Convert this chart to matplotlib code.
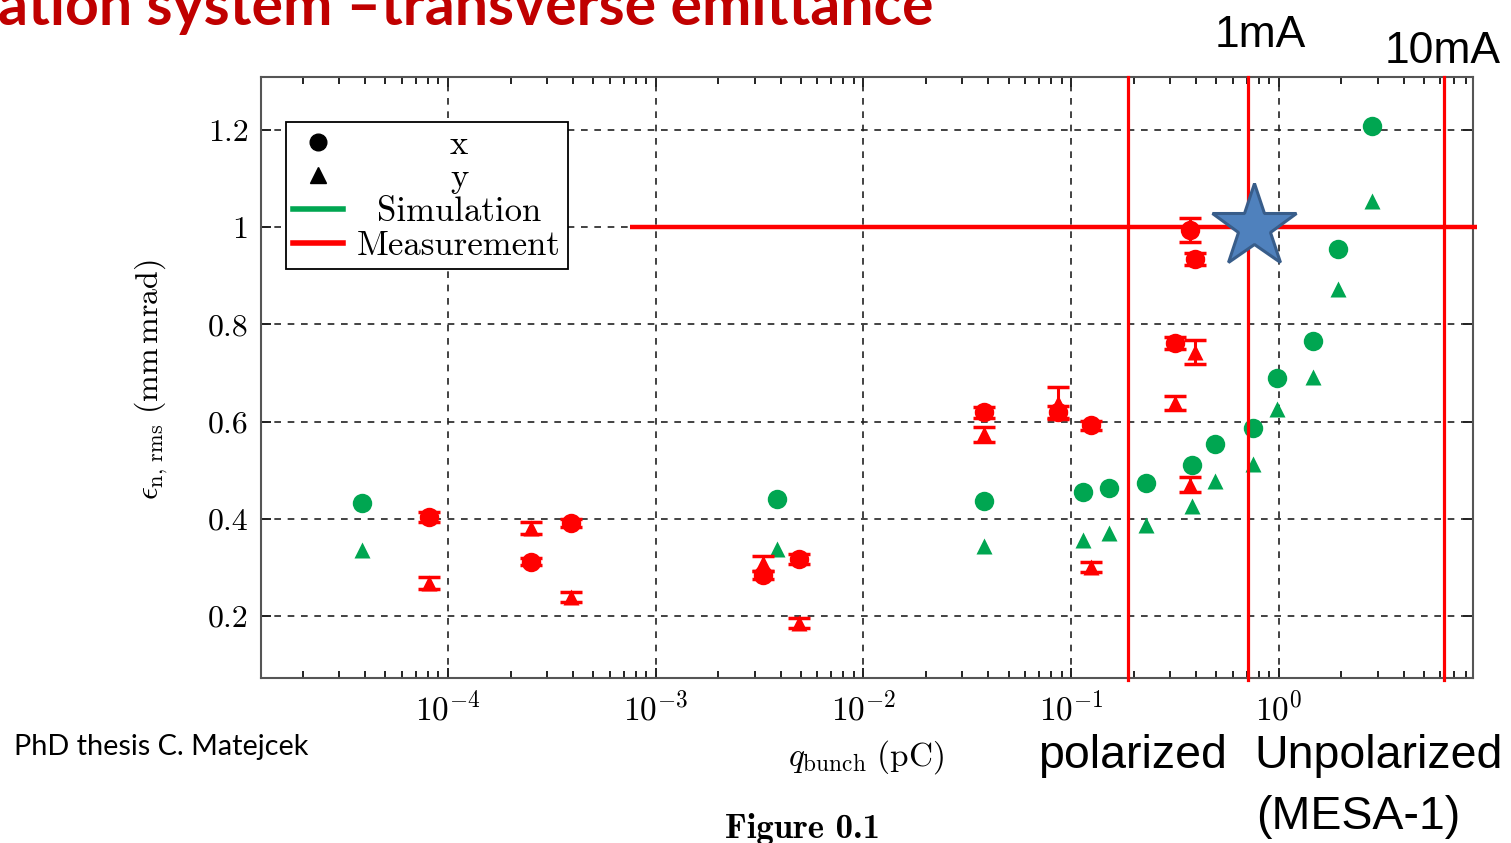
import numpy as np
import matplotlib
matplotlib.use('Agg')
import matplotlib.pyplot as plt
from matplotlib.lines import Line2D
from matplotlib.ticker import LogLocator, LogFormatterMathtext, NullFormatter, FixedLocator, FixedFormatter

plt.rcParams['font.family'] = 'cmr10'
plt.rcParams['mathtext.fontset'] = 'cm'
plt.rcParams['axes.unicode_minus'] = False
plt.rcParams['axes.formatter.use_mathtext'] = True

# Simulation (green): bunch charge in pC, emittance in mm mrad
q_sim = [3.85e-5, 3.82e-3, 0.0381, 0.114, 0.152, 0.229, 0.380, 0.493, 0.751, 0.976, 1.46, 1.93, 2.81]
eps_sim_x = [0.433, 0.440, 0.437, 0.455, 0.463, 0.474, 0.511, 0.554, 0.587, 0.690, 0.766, 0.955, 1.208]
eps_sim_y = [0.336, 0.338, 0.344, 0.356, 0.370, 0.387, 0.426, 0.478, 0.513, 0.626, 0.692, 0.873, 1.054]

# Measurement (red) with error bars
q_meas = [8.1e-5, 2.51e-4, 3.91e-4, 3.29e-3, 4.9e-3, 0.0381, 0.0865, 0.1247, 0.316, 0.374, 0.395]
eps_meas_x = [0.404, 0.312, 0.391, 0.284, 0.317, 0.619, 0.620, 0.592, 0.762, 0.994, 0.935]
err_meas_x = [0.010, 0.008, 0.008, 0.008, 0.010, 0.012, 0.012, 0.010, 0.012, 0.024, 0.012]
eps_meas_y = [0.268, 0.381, 0.239, 0.308, 0.186, 0.574, 0.638, 0.301, 0.638, 0.470, 0.743]
err_meas_y = [0.012, 0.012, 0.010, 0.015, 0.010, 0.015, 0.033, 0.010, 0.014, 0.015, 0.024]

# operating points drawn on top
q_current_lines = [0.188, 0.711, 6.24]
q_target, eps_target = 0.76, 1.0
eps_limit = 1.0
q_limit_range = [7.5e-4, 9.0]

xlim = (1.258e-5, 8.61)
ylim = (0.0724, 1.309)
yticks = [0.2, 0.4, 0.6, 0.8, 1.0, 1.2]
yticklabels = ['0.2', '0.4', '0.6', '0.8', '1', '1.2']

green = '#00A651'
red = '#FF0000'

W, H = 1511, 843
fig = plt.figure(figsize=(W / 100, H / 100), dpi=100)
ax = fig.add_axes([261 / W, 165 / H, 1212 / W, 601 / H])
ax.set_xscale('log')
ax.set_xlim(*xlim)
ax.set_ylim(*ylim)

ax.grid(True, which='major', ls=(0, (4, 4)), lw=1.2, color='#222222', zorder=0)
ax.set_axisbelow(True)

ax.plot(q_sim, eps_sim_x, 'o', color=green, ms=14, mec='none', zorder=3)
ax.plot(q_sim, eps_sim_y, '^', color=green, ms=12, mec='none', zorder=3)
ax.errorbar(q_meas, eps_meas_x, yerr=err_meas_x, fmt='o', color=red, ms=14, mec='none',
            elinewidth=2.2, capsize=8, capthick=2.5, zorder=3)
ax.errorbar(q_meas, eps_meas_y, yerr=err_meas_y, fmt='^', color=red, ms=12, mec='none',
            elinewidth=2.2, capsize=8, capthick=2.5, zorder=3)

# current markers and emittance limit
for q in q_current_lines:
    ax.axvline(q, ymin=-0.004, ymax=1.0, color=red, lw=2.3, zorder=5, clip_on=False)
ax.hlines(eps_limit, q_limit_range[0], q_limit_range[1], color=red, lw=3.2, zorder=5, clip_on=False)
ax.plot([q_target], [eps_target], marker='*', ms=63, color='#4F81BD', mec='#385D8A', mew=2.2,
        zorder=6, clip_on=False)

for s in ax.spines.values():
    s.set_color('#555555')
    s.set_linewidth(1.5)

ax.xaxis.set_major_locator(LogLocator(base=10, numticks=20))
ax.xaxis.set_minor_locator(LogLocator(base=10, subs=np.arange(2, 10), numticks=20))
ax.xaxis.set_major_formatter(LogFormatterMathtext())
ax.xaxis.set_minor_formatter(NullFormatter())
ax.yaxis.set_major_locator(FixedLocator(yticks))
ax.yaxis.set_major_formatter(FixedFormatter(yticklabels))
ax.tick_params(which='both', direction='in', top=True, right=True, color='#222222', width=1.4)
ax.tick_params(which='major', length=7)
ax.tick_params(which='minor', length=5)
ax.tick_params(axis='x', which='major', labelsize=24, pad=9)
ax.tick_params(axis='y', which='major', labelsize=23, pad=9)

ax.set_ylabel(r'$\epsilon_{\mathrm{n,\,rms}}\ (\mathrm{mm\,mrad})$', fontsize=23)
ax.yaxis.set_label_coords(-0.075, 0.496)
ax.set_xlabel(r'$q_{\mathrm{bunch}}\ (\mathrm{pC})$', fontsize=24)
ax.xaxis.set_label_coords(0.499, -0.131)
ax.xaxis.label.set_va('center')

handles = [
    Line2D([], [], ls='none', marker='o', color='black', ms=12),
    Line2D([], [], ls='none', marker='^', color='black', ms=11),
    Line2D([], [], color=green, lw=4),
    Line2D([], [], color=red, lw=4),
]
labels = ['x', 'y', 'Simulation', 'Measurement']
leg = ax.legend(handles, labels, loc='upper left', bbox_to_anchor=(0.0206, 0.925),
                borderaxespad=0, fontsize=25, frameon=True, fancybox=False,
                edgecolor='black', framealpha=1, handlelength=1.45, handletextpad=0.4,
                borderpad=0.2, labelspacing=0.06)
leg.get_frame().set_linewidth(1.3)
leg.set_zorder(4)

def fx(px):
    return px / W

def fy(py):
    return 1 - py / H

fig.text(fx(-2), fy(25), 'ation system \u2013transverse emittance', ha='left', va='baseline',
         fontsize=42.5, fontweight='bold', family='Lato', color='#C00000')
fig.text(fx(1260), fy(47), '1mA', ha='center', va='baseline', fontsize=32, family='Liberation Sans')
fig.text(fx(1443), fy(63), '10mA', ha='center', va='baseline', fontsize=32, family='Liberation Sans')
fig.text(fx(1038), fy(768), 'polarized', ha='left', va='baseline', fontsize=33.5, family='Liberation Sans')
fig.text(fx(1254), fy(768), 'Unpolarized', ha='left', va='baseline', fontsize=33.5, family='Liberation Sans')
fig.text(fx(1256), fy(829), '(MESA-1)', ha='left', va='baseline', fontsize=33.5, family='Liberation Sans')
fig.text(fx(14), fy(755), 'PhD thesis C. Matejcek', ha='left', va='baseline', fontsize=20.8, family='Lato')
fig.text(fx(802), fy(838), 'Figure 0.1', ha='center', va='baseline', fontsize=25, family='cmb10')

# centre the legend labels in their column
fig.canvas.draw()
rend = fig.canvas.get_renderer()
texts = leg.get_texts()
widths = [t.get_window_extent(rend).width for t in texts]
wmax = max(widths)
for t, w in zip(texts, widths):
    t.set_x((wmax - w) / 2)

fig.savefig('out.png', dpi=100)
